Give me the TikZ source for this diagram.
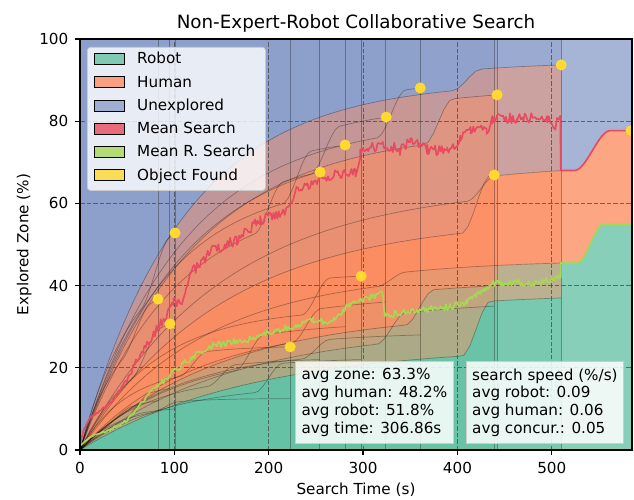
\documentclass[tikz,border=0pt]{standalone}
\usepackage{fontspec}
\setmainfont{DejaVu Sans}
\definecolor{robotc}{HTML}{66C2A5}
\definecolor{humanc}{HTML}{FC8D62}
\definecolor{unexc}{HTML}{8DA0CB}
\definecolor{meanc}{HTML}{E84A5F}
\definecolor{meanrc}{HTML}{A6D854}
\definecolor{foundc}{HTML}{FFD92F}
\definecolor{framec}{HTML}{CCCCCC}

% normalised saturating growth: grow(t, tau, T) = 1 at t = T
\pgfmathdeclarefunction{grow}{3}{\pgfmathparse{(1-exp(-#1/#2))/(1-exp(-#3/#2))}}
% smooth 0..1 ramp
\pgfmathdeclarefunction{sstep}{1}{\pgfmathparse{(min(1,max(0,#1)))^2*(3-2*min(1,max(0,#1)))}}
% growth with one late jump: runcurve(t, tau, T, jump centre, jump share)
\pgfmathdeclarefunction{runcurve}{5}{\pgfmathparse{(1-#5)*grow(#1,#2,#3)+#5*sstep((#1-#4)/30+0.5)}}
% the run that lasts until the end of the axis
\pgfmathdeclarefunction{lasttotal}{1}{\pgfmathparse{(#1<=510) ? 68*runcurve(#1,150,510,425,0.08) : 68+9.7*sstep((#1-524)/38)}}
\pgfmathdeclarefunction{lastrobot}{1}{\pgfmathparse{(#1<=510) ? 45.5*runcurve(#1,130,510,330,0.06) : 45.5+9.5*sstep((#1-527)/28)}}

% end time, explored at end, robot at end, tau explored, tau robot,
% jump centre explored, jump share explored, jump centre robot, jump share robot
\def\runs{83/36.7/12/45/40/60/0.2/40/0.2,
  95/30.7/15/60/60/70/0.25/60/0.3,
  101/52.8/10/60/40/80/0.2/50/0.2,
  223/25.1/12.5/50/40/120/0.2/90/0.15,
  254/67.6/22/100/70/200/0.15/150/0.2,
  281/74.2/30/90/100/230/0.15/180/0.25,
  298/42.3/22/80/90/250/0.2/200/0.3,
  324/81/36/110/120/260/0.12/240/0.2,
  361/88.1/28/110/100/330/0.12/250/0.15,
  439/66.9/35/150/160/420/0.2/330/0.2,
  442/86.4/40/120/150/380/0.12/360/0.2,
  510/93.7/37/110/180/410/0.05/420/0.35}

\newcommand\runfill[9]{%
  \fill[robotc, band] (0,0) -- plot[domain=0:#1, samples=80] (\x,{#3*runcurve(\x,#5,#1,#8,#9)}) -- (#1,0) -- cycle;
  \fill[humanc, band] plot[domain=0:#1, samples=80] (\x,{#3*runcurve(\x,#5,#1,#8,#9)})
     -- plot[domain=#1:0, samples=80] (\x,{#2*runcurve(\x,#4,#1,#6,#7)}) -- cycle;
  \fill[unexc, band] plot[domain=0:#1, samples=80] (\x,{#2*runcurve(\x,#4,#1,#6,#7)}) -- (#1,100) -- (0,100) -- cycle;
}
\newcommand\runedge[9]{%
  \draw[edgeline] plot[domain=0:#1, samples=80] (\x,{#3*runcurve(\x,#5,#1,#8,#9)});
  \draw[edgeline] plot[domain=0:#1, samples=80] (\x,{#2*runcurve(\x,#4,#1,#6,#7)});
  \draw[edgeline] (#1,0) -- (#1,100);
}

\begin{document}
\begin{tikzpicture}[x=1pt, y=1pt, font=\fontsize{15.2}{17.7}\selectfont,
  band/.style={fill opacity=0.45},
  lastband/.style={fill opacity=0.78},
  edgeline/.style={draw=black, draw opacity=0.3, line width=0.7pt},
  gridline/.style={draw=black!75, draw opacity=0.7, line width=0.8pt, dash pattern=on 4.5pt off 2pt},
  meanline/.style={draw=meanc, line width=1.6pt, line join=round},
  meanrline/.style={draw=meanrc, line width=1.6pt, line join=round},
  founddot/.style={circle, fill=foundc, inner sep=0pt, minimum size=11pt},
  spine/.style={draw=black, line width=1.2pt},
  axtick/.style={draw=black, line width=1.2pt},
  xticklabel/.style={anchor=north, inner sep=0pt},
  yticklabel/.style={anchor=east, inner sep=0pt},
  legframe/.style={draw=framec, fill=white, fill opacity=0.8, rounded corners=3pt, line width=0.8pt, inner sep=0pt},
  legpatch/.style={draw=black, line width=0.6pt, fill opacity=0.8, minimum width=30pt, minimum height=11pt, inner sep=0pt},
  legtext/.style={anchor=base west, inner sep=0pt},
  statbox/.style={draw=framec, fill=white, fill opacity=0.85, text opacity=1, align=left, inner sep=0pt, line width=0.8pt}]
\useasboundingbox (-80,-49) rectangle (554,450);
\fill[white] (-80,-49) rectangle (554,450);
\pgfmathsetseed{11}

\begin{scope}[x=0.9436pt, y=4.11pt]
  \clip (0,0) rectangle (585,100);
  \fill[white] (0,0) rectangle (585,100);
  % longest run, lowest layer
  \fill[robotc, lastband] (0,0) -- plot[domain=0:585, samples=240] (\x,{lastrobot(\x)}) -- (585,0) -- cycle;
  \fill[humanc, lastband] plot[domain=0:585, samples=240] (\x,{lastrobot(\x)})
     -- plot[domain=585:0, samples=240] (\x,{lasttotal(\x)}) -- cycle;
  \fill[unexc, lastband] plot[domain=0:585, samples=240] (\x,{lasttotal(\x)}) -- (585,100) -- (0,100) -- cycle;
  % the other runs
  \foreach \rT/\rE/\rR/\rtE/\rtR/\rcE/\rwE/\rcR/\rwR in \runs
    {\runfill{\rT}{\rE}{\rR}{\rtE}{\rtR}{\rcE}{\rwE}{\rcR}{\rwR}}
  \foreach \rT/\rE/\rR/\rtE/\rtR/\rcE/\rwE/\rcR/\rwR in \runs
    {\runedge{\rT}{\rE}{\rR}{\rtE}{\rtR}{\rcE}{\rwE}{\rcR}{\rwR}}
  \draw[edgeline] plot[domain=0:585, samples=240] (\x,{lastrobot(\x)});
  \draw[edgeline] plot[domain=0:585, samples=240] (\x,{lasttotal(\x)});
  % grid
  \foreach \t in {100,200,...,500} {\draw[gridline] (\t,0) -- (\t,100);}
  \foreach \v in {20,40,...,80} {\draw[gridline] (0,\v) -- (585,\v);}
  % mean explored zone
  \draw[meanline] (0,1.5)
    \foreach \a/\ya/\b/\yb [evaluate=\b as \ns using {int(max(3,(\b-\a)/1.3))}] in
      {0/1.5/4/5, 4/5/10.6/7.8, 10.6/7.8/32/11.4, 32/11.4/50/17, 50/17/64/23.6,
       64/23.6/81/29.2, 81/29.2/99/35.8, 99/35.8/106/36, 106/36/112/38, 112/38/117/43,
       117/43/141/48.7, 141/48.7/166/51, 166/51/191/56, 191/56/212/57.6, 212/57.6/222/58.5,
       222/58.5/228/63, 228/63/254/66, 254/66/276/67.4, 276/67.4/292/67.5, 292/67.5/297/72.2,
       297/72.2/321/74.6, 321/74.6/339/73, 339/73/350/75.4, 350/75.4/368/73, 368/73/389/73,
       389/73/403/75.4, 403/75.4/414/77.9, 414/77.9/431/77.9, 431/77.9/437/80.5,
       437/80.5/463/80.7, 463/80.7/495/81, 495/81/502/78.6, 502/78.6/509/81}
    { -- plot[domain=\a:\b, samples=\ns] (\x,{\ya+(\yb-\ya)*(\x-\a)/(\b-\a)+1.3*min(1,\x/90)*rand}) }
    -- (509.5,68.1) -- plot[domain=510:585, samples=60] (\x,{lasttotal(\x)});
  % mean robot zone
  \draw[meanrline] (0,1)
    \foreach \a/\ya/\b/\yb [evaluate=\b as \ns using {int(max(3,(\b-\a)/1.3))}] in
      {0/1/10.6/3.2, 10.6/3.2/32/4.9, 32/4.9/50/7.3, 50/7.3/64/11.4, 64/11.4/81/15.3,
       81/15.3/99/19, 99/19/117/22.4, 117/22.4/134/24.3, 134/24.3/141/25.5, 141/25.5/177/26.8,
       177/26.8/212/29.2, 212/29.2/247/31.6, 247/31.6/265/30.9, 265/30.9/286/35.3,
       286/35.3/321/38.2, 321/38.2/323/32.8, 323/32.8/357/34, 357/34/392/34.8, 392/34.8/410/36,
       410/36/438/40.6, 438/40.6/480/40.6, 480/40.6/507/42, 507/42/509.5/42.5}
    { -- plot[domain=\a:\b, samples=\ns] (\x,{\ya+(\yb-\ya)*(\x-\a)/(\b-\a)+0.8*min(1,\x/90)*rand}) }
    -- (509.5,45.5) -- plot[domain=510:585, samples=60] (\x,{lastrobot(\x)});
  % objects found
  \node[founddot] (f1) at (82.7,36.7) {};
  \node[founddot] (f2) at (95.4,30.7) {};
  \node[founddot] (f3) at (100.7,52.8) {};
  \node[founddot] (f4) at (222.7,25.1) {};
  \node[founddot] (f5) at (254.5,67.6) {};
  \node[founddot] (f6) at (281,74.2) {};
  \node[founddot] (f7) at (298,42.3) {};
  \node[founddot] (f8) at (324.5,81) {};
  \node[founddot] (f9) at (360.6,88.1) {};
  \node[founddot] (f10) at (439,66.9) {};
  \node[founddot] (f11) at (442,86.4) {};
  \node[founddot] (f12) at (510,93.7) {};
  \node[founddot] (f13) at (584,77.7) {};
\end{scope}

% frame, ticks and tick labels
\begin{scope}[x=0.9436pt, y=4.11pt]
  \draw[spine] (0,0) rectangle (585,100);
  \foreach \t in {0,100,...,500} {
    \draw[axtick] (\t,0) -- ++(0,-5.3pt);
    \node[xticklabel, yshift=-12pt] (xt\t) at (\t,0) {\t};
  }
  \foreach \v in {0,20,...,100} {
    \draw[axtick] (0,\v) -- ++(-5.3pt,0);
    \node[yticklabel, xshift=-11.5pt] (yt\v) at (0,\v) {\v};
  }
\end{scope}

% titles
\node[anchor=base, font=\fontsize{18.3}{22}\selectfont] (title) at (276,421) {Non-Expert-Robot Collaborative Search};
\node[anchor=base] (xlab) at (276,-44) {Search Time (s)};
\node[anchor=base, rotate=90] (ylab) at (-51.5,205.5) {Explored Zone (\%)};

% legend
\node[legframe, anchor=north west, minimum width=178pt, minimum height=143pt] (legend) at (7,403) {};
\foreach \c/\lab [count=\i] in {robotc/Robot, humanc/Human, unexc/Unexplored, meanc/Mean Search, meanrc/Mean R. Search, foundc/Object Found} {
  \node[legpatch, fill=\c] (lp\i) at (29,{391-23.2*(\i-1)}) {};
  \node[legtext] (lt\i) at (57,{386-23.2*(\i-1)}) {\lab};
}

% summary boxes
\node[statbox, anchor=north west, minimum width=158pt, minimum height=82pt] (stats) at (215,89)
  {avg zone: 63.3\%\\avg human: 48.2\%\\avg robot: 51.8\%\\avg time: 306.86s};
\node[statbox, anchor=north west, minimum width=157pt, minimum height=82pt] (speed) at (386,89)
  {search speed (\%/s)\\avg robot: 0.09\\avg human: 0.06\\avg concur.: 0.05};
\end{tikzpicture}
\end{document}
